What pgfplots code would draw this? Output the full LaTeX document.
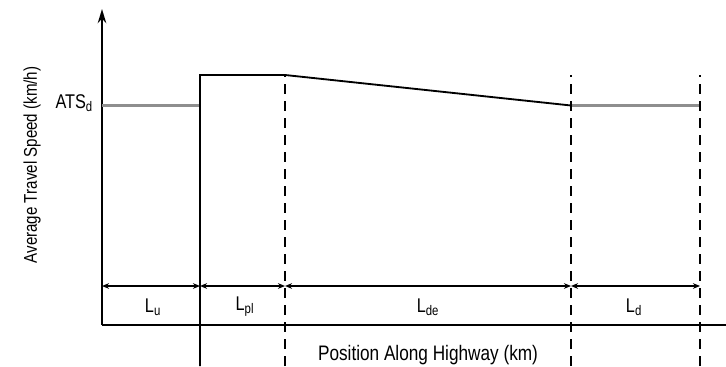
\documentclass[border=0pt]{standalone}
\usepackage{fontspec}
\setmainfont{Liberation Sans}[FakeStretch=0.82]
\usepackage{pgfplots}
\pgfplotsset{compat=1.18}
\usetikzlibrary{arrows.meta}
\definecolor{lvl}{HTML}{8E8E8E}
\newcommand\lbl{\fontsize{14}{16}\selectfont}
\begin{document}
\begin{tikzpicture}
\begin{axis}[
  width=18cm, height=9.0744cm, scale only axis,
  xmin=0, xmax=726, ymin=0, ymax=366,
  hide axis, clip=false,
]
% axes
\addplot[black, line width=1.4pt, -{Stealth[length=10pt,width=6pt]}] coordinates {(102,41) (102,357)};
\addplot[black, line width=1.4pt] coordinates {(102,41) (726,41)};
% speed profile
\addplot[lvl, line width=1.6pt] coordinates {(102,260.5) (200,260.5)};
\addplot[black, line width=1.3pt] coordinates {(200,0) (200,291) (285,291) (571,260.5)};
\addplot[lvl, line width=1.6pt] coordinates {(571,260.5) (700,260.5)};
% dashed boundaries
\addplot[black, line width=1.3pt, dash pattern=on 7pt off 5pt] coordinates {(285,0) (285,291)};
\addplot[black, line width=1.3pt, dash pattern=on 7pt off 5pt] coordinates {(571,0) (571,291)};
\addplot[black, line width=1.3pt, dash pattern=on 7pt off 5pt] coordinates {(700,0) (700,291)};
% segment arrows
\addplot[black, line width=1.2pt, {Stealth[length=5pt,width=4pt]}-{Stealth[length=5pt,width=4pt]}] coordinates {(102,80) (200,80)};
\addplot[black, line width=1.2pt, {Stealth[length=5pt,width=4pt]}-{Stealth[length=5pt,width=4pt]}] coordinates {(200,80) (285,80)};
\addplot[black, line width=1.2pt, {Stealth[length=5pt,width=4pt]}-{Stealth[length=5pt,width=4pt]}] coordinates {(285,80) (571,80)};
\addplot[black, line width=1.2pt, {Stealth[length=5pt,width=4pt]}-{Stealth[length=5pt,width=4pt]}] coordinates {(571,80) (700,80)};
% labels
\node at (axis cs:153,59) {\lbl L\textsubscript{u}};
\node at (axis cs:245,59) {\lbl L\textsubscript{pl}};
\node at (axis cs:428,59) {\lbl L\textsubscript{de}};
\node at (axis cs:634,59) {\lbl L\textsubscript{d}};
\node[anchor=east] at (axis cs:98,263) {\lbl ATS\textsubscript{d}};
\node at (axis cs:428,11) {\fontsize{14.8}{17}\selectfont Position Along Highway (km)};
\node[rotate=90] at (axis cs:32,201) {\fontsize{13}{15}\selectfont Average Travel Speed (km/h)};
\end{axis}
\pgfresetboundingbox
\path (current axis.south west) rectangle (current axis.north east);
\end{tikzpicture}
\end{document}
